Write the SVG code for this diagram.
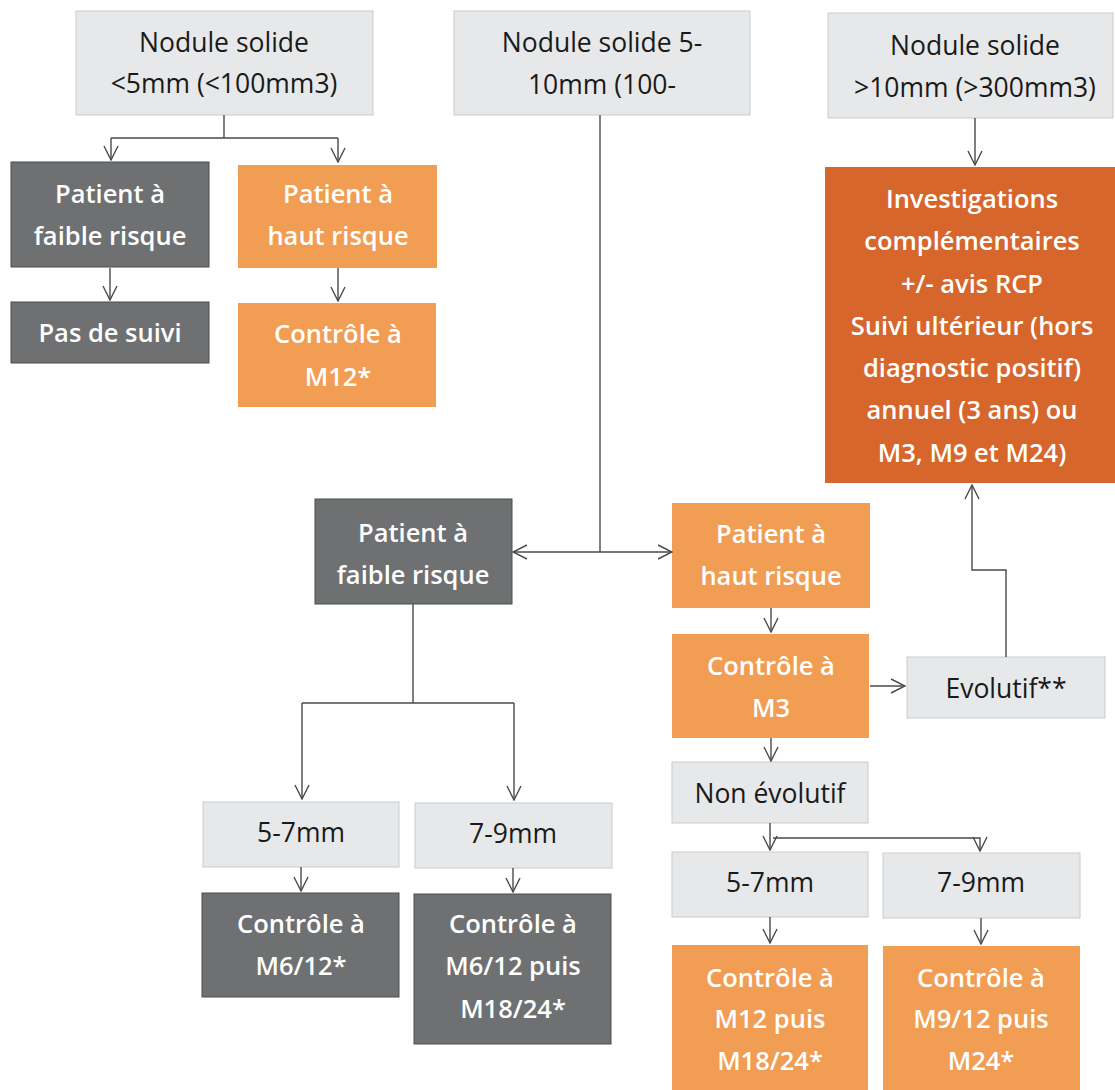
<svg xmlns="http://www.w3.org/2000/svg" width="1115" height="1090" viewBox="0 0 1115 1090">
<defs>
<marker id="arr" markerWidth="16" markerHeight="16" viewBox="0 0 16 16" refX="15" refY="8" orient="auto-start-reverse" markerUnits="userSpaceOnUse">
<path d="M1,1 L15,8 L1,15" fill="none" stroke="#4a4a4a" stroke-width="1.4"/>
</marker>
</defs>
<style>
.light{fill:#E6E8E9;stroke:#c9cccd;stroke-width:1}
.dark{fill:#6E7072;stroke:#4b4c4d;stroke-width:1}
.orange{fill:#F19D54}
.dorange{fill:#D6662C}
text{font-family:"Open Sans","Liberation Sans",sans-serif;text-anchor:middle}
.t{fill:#1a1a1a;font-size:26.5px}
.w{fill:#ffffff;font-size:25.5px;font-weight:600}
.c{fill:none;stroke:#4a4a4a;stroke-width:1.4}
.a{marker-end:url(#arr)}
</style>
<rect width="1115" height="1090" fill="#ffffff"/>
<g id="n1"><rect class="light" x="76" y="11" width="297" height="104"/><text class="t" x="224" y="52">Nodule solide</text><text class="t" x="224" y="93">&lt;5mm (&lt;100mm3)</text></g>
<g id="n2"><rect class="light" x="454" y="11" width="296" height="104"/><text class="t" x="602" y="52">Nodule solide 5-</text><text class="t" x="602" y="94">10mm (100-</text></g>
<g id="n3"><rect class="light" x="828" y="13" width="285" height="105"/><text class="t" x="975" y="55">Nodule solide</text><text class="t" x="975" y="97">&gt;10mm (&gt;300mm3)</text></g>
<g id="n4"><rect class="dark" x="11" y="162" width="198" height="105"/><text class="w" x="110" y="203">Patient à</text><text class="w" x="110" y="245">faible risque</text></g>
<g id="n5"><rect class="orange" x="238" y="165" width="199" height="103"/><text class="w" x="338" y="203">Patient à</text><text class="w" x="338" y="245">haut risque</text></g>
<g id="n6"><rect class="dark" x="11" y="302" width="198" height="61"/><text class="w" x="110" y="342">Pas de suivi</text></g>
<g id="n7"><rect class="orange" x="238" y="303" width="198" height="104"/><text class="w" x="338" y="343">Contrôle à</text><text class="w" x="338" y="386">M12*</text></g>
<g id="n8"><rect class="dorange" x="825" y="167" width="290" height="316"/>
<text class="w" x="972" y="208">Investigations</text>
<text class="w" x="972" y="250">complémentaires</text>
<text class="w" x="972" y="293">+/- avis RCP</text>
<text class="w" x="972" y="335">Suivi ultérieur (hors</text>
<text class="w" x="972" y="377">diagnostic positif)</text>
<text class="w" x="972" y="419">annuel (3 ans) ou</text>
<text class="w" x="972" y="462">M3, M9 et M24)</text></g>
<g id="n9"><rect class="dark" x="315" y="499" width="197" height="105"/><text class="w" x="413" y="542">Patient à</text><text class="w" x="413" y="584">faible risque</text></g>
<g id="n10"><rect class="orange" x="672" y="503" width="198" height="105"/><text class="w" x="771" y="543">Patient à</text><text class="w" x="771" y="585">haut risque</text></g>
<g id="n11"><rect class="orange" x="672" y="634" width="197" height="104"/><text class="w" x="771" y="675">Contrôle à</text><text class="w" x="771" y="717">M3</text></g>
<g id="n12"><rect class="light" x="907" y="657" width="198" height="61"/><text class="t" x="1006" y="698">Evolutif**</text></g>
<g id="n13"><rect class="light" x="672" y="762" width="196" height="61"/><text class="t" x="770" y="803">Non évolutif</text></g>
<g id="n14"><rect class="light" x="203" y="802" width="196" height="65"/><text class="t" x="301" y="842">5-7mm</text></g>
<g id="n15"><rect class="light" x="415" y="803" width="197" height="65"/><text class="t" x="513" y="843">7-9mm</text></g>
<g id="n16"><rect class="dark" x="202" y="893" width="197" height="104"/><text class="w" x="301" y="933">Contrôle à</text><text class="w" x="301" y="975">M6/12*</text></g>
<g id="n17"><rect class="dark" x="414" y="894" width="197" height="150"/><text class="w" x="513" y="933">Contrôle à</text><text class="w" x="513" y="975">M6/12 puis</text><text class="w" x="513" y="1018">M18/24*</text></g>
<g id="n18"><rect class="light" x="672" y="852" width="196" height="65"/><text class="t" x="770" y="892">5-7mm</text></g>
<g id="n19"><rect class="light" x="883" y="853" width="197" height="65"/><text class="t" x="981" y="892">7-9mm</text></g>
<g id="n20"><rect class="orange" x="672" y="945" width="196" height="145"/><text class="w" x="770" y="987">Contrôle à</text><text class="w" x="770" y="1028">M12 puis</text><text class="w" x="770" y="1070">M18/24*</text></g>
<g id="n21"><rect class="orange" x="883" y="946" width="197" height="144"/><text class="w" x="981" y="987">Contrôle à</text><text class="w" x="981" y="1028">M9/12 puis</text><text class="w" x="981" y="1070">M24*</text></g>
<g id="connectors">
<path class="c" d="M224,115 V138 M111,138 H338"/>
<path class="c a" d="M111,138 V160"/>
<path class="c a" d="M338,138 V162"/>
<path class="c a" d="M110,268 V300"/>
<path class="c a" d="M338,268 V301"/>
<path class="c" d="M600,115 V552"/>
<path class="c" d="M513,552 H672" marker-start="url(#arr)" marker-end="url(#arr)"/>
<path class="c" d="M413,604 V703 M302,703 H514"/>
<path class="c a" d="M302,703 V799"/>
<path class="c a" d="M514,703 V800"/>
<path class="c a" d="M301,867 V891"/>
<path class="c a" d="M513,868 V892"/>
<path class="c a" d="M975,118 V165"/>
<path class="c a" d="M771,608 V632"/>
<path class="c a" d="M870,686 H905"/>
<path class="c a" d="M1006,657 V570 H972 V485"/>
<path class="c a" d="M771,738 V761"/>
<path class="c a" d="M770,823 V850"/>
<path class="c a" d="M773,838 H980 V851"/>
<path class="c a" d="M770,917 V943"/>
<path class="c a" d="M981,918 V944"/>
</g>
</svg>
